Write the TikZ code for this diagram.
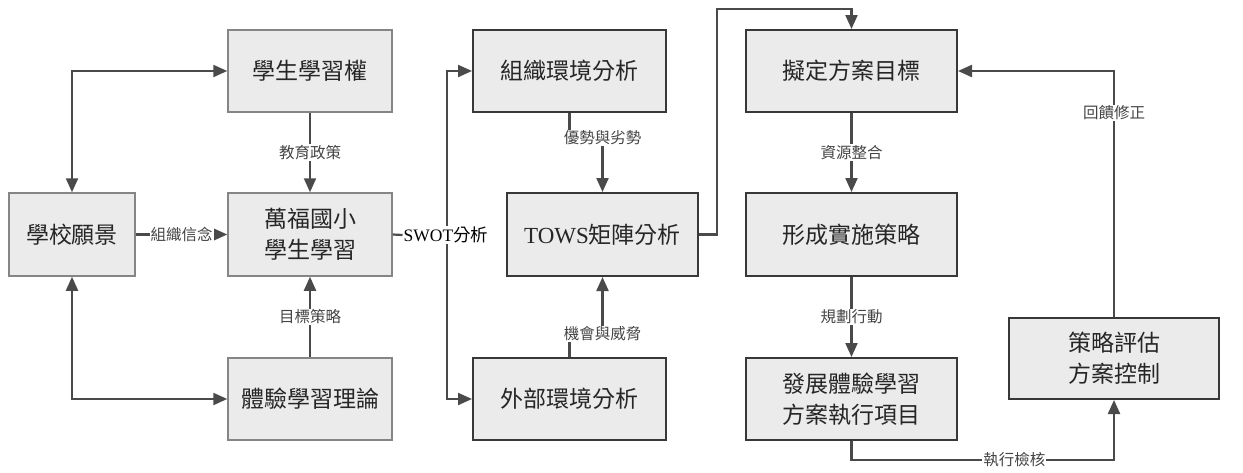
\documentclass[tikz,border=0pt]{standalone}
\usepackage{fontspec}
\setmainfont{Liberation Serif}
\newfontfamily\cjk{Noto Sans CJK TC}
\newfontfamily\lat{Liberation Serif}
\usetikzlibrary{arrows.meta}
\definecolor{boxfill}{HTML}{EBEBEB}
\definecolor{lineclr}{HTML}{4A4A4A}
\definecolor{softedge}{HTML}{858585}
\definecolor{hardedge}{HTML}{383838}
\definecolor{txt}{HTML}{262626}
\definecolor{labtxt}{HTML}{444444}
\tikzset{
  x=1pt, y=-1pt,
  boxbase/.style={fill=boxfill, text=txt, align=center, inner sep=0pt,
    font=\cjk\fontsize{23}{31}\selectfont},
  softbox/.style={boxbase, draw=softedge, line width=1.5pt},
  hardbox/.style={boxbase, draw=hardedge, line width=2pt},
  conn/.style={draw=lineclr, line width=2.2pt},
  arr/.style={conn, -{Triangle[length=14pt,width=12pt]}},
  darr/.style={conn, {Triangle[length=14pt,width=12pt]}-{Triangle[length=14pt,width=12pt]}},
  lab/.style={fill=white, text=labtxt, inner sep=1pt, font=\cjk\fontsize{15.5}{17}\selectfont},
  biglab/.style={fill=white, text=black, inner sep=1pt, font=\cjk\fontsize{17.5}{19}\selectfont}
}
\begin{document}
\begin{tikzpicture}
\useasboundingbox (0,0) rectangle (1243,472);
% left column
\node[softbox, minimum width=126pt, minimum height=83pt] (vision) at (72,234.5) {學校願景};
\node[softbox, minimum width=164pt, minimum height=82pt] (right) at (310,71) {學生學習權};
\node[softbox, minimum width=164pt, minimum height=83pt] (wanfu) at (310,234.5) {萬福國小\\學生學習};
\node[softbox, minimum width=164pt, minimum height=82pt] (theory) at (310,399) {體驗學習理論};
% middle column
\node[hardbox, minimum width=193pt, minimum height=82pt] (org) at (569.5,71) {組織環境分析};
\node[hardbox, minimum width=191pt, minimum height=83pt] (tows) at (602.5,234.5) {{\lat TOWS}矩陣分析};
\node[hardbox, minimum width=193pt, minimum height=82pt] (ext) at (569.5,399) {外部環境分析};
% right column
\node[hardbox, minimum width=211pt, minimum height=82pt] (goal) at (851.5,71) {擬定方案目標};
\node[hardbox, minimum width=211pt, minimum height=83pt] (form) at (851.5,234.5) {形成實施策略};
\node[hardbox, minimum width=211pt, minimum height=82pt] (dev) at (851.5,399) {發展體驗學習\\方案執行項目};
\node[hardbox, minimum width=210pt, minimum height=81pt] (eval) at (1114,358.5) {策略評估\\方案控制};

% left connectors
\draw[darr] (vision.north) |- (right.west);
\draw[darr] (vision.south) |- (theory.west);
\draw[arr] (vision.east) -- node[lab] {組織信念} (wanfu.west);
\draw[arr] (right.south) -- node[lab] {教育政策} (wanfu.north);
\draw[arr] (theory.north) -- node[lab] {目標策略} (wanfu.south);

% SWOT
\node[biglab] (swot) at (446,235) {{\lat SWOT}分析};
\draw[conn] (wanfu.east) -- (swot.west);
\draw[arr] (swot.north -| 447,0) |- (org.west);
\draw[arr] (swot.south -| 447,0) |- (ext.west);

% middle connectors
\node[lab] (sw) at (602.5,138) {優勢與劣勢};
\draw[conn] (org.south) -- (org.south |- sw.north);
\draw[arr] (sw.south -| tows.north) -- (tows.north);
\node[lab] (ot) at (602.5,334) {機會與威脅};
\draw[conn] (ext.north) -- (ext.north |- ot.south);
\draw[arr] (ot.north -| tows.south) -- (tows.south);

% TOWS to goal
\coordinate (t1) at (717,9);
\draw[arr] (tows.east) -| (t1) -| (goal.north);

% right connectors
\draw[arr] (goal.south) -- node[lab] {資源整合} (form.north);
\draw[arr] (form.south) -- node[lab] {規劃行動} (dev.north);
\draw[arr] (eval.north) |- node[lab, pos=0.415] {回饋修正} (goal.east);
\coordinate (d1) at (851.5,460);
\draw[arr] (dev.south) -- (d1) -| node[lab, pos=0.31] {執行檢核} (eval.south);
\end{tikzpicture}
\end{document}
